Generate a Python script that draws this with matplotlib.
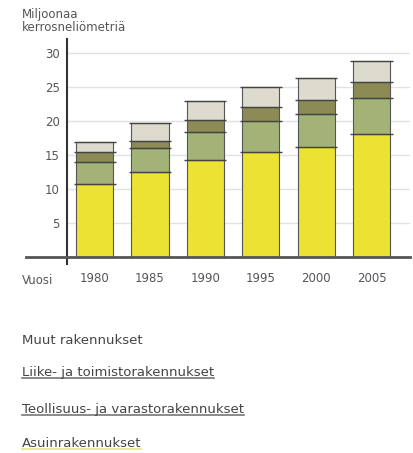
import numpy as np
import matplotlib.pyplot as plt

# data (millions of floor square metres)
years = ['1980', '1985', '1990', '1995', '2000', '2005']
asuin = [10.7, 12.5, 14.3, 15.5, 16.2, 18.1]
teollisuus = [3.3, 3.5, 4.1, 4.5, 4.8, 5.3]
liike = [1.4, 1.0, 1.7, 2.1, 2.1, 2.3]
muut = [1.5, 2.7, 2.8, 2.9, 3.2, 3.1]

series = [asuin, teollisuus, liike, muut]
names = ['Asuinrakennukset', 'Teollisuus- ja varastorakennukset',
         'Liike- ja toimistorakennukset', 'Muut rakennukset']
colors = ['#ebe233', '#a3b277', '#8c8b55', '#dcdbcd']
underline = ['#e6e48a', '#777777', '#777777', None]

fig = plt.figure(figsize=(4.13, 4.53), dpi=100)
ax = fig.add_axes([0.162, 0.433, 0.83, 0.48])

x = np.arange(len(years))
bottom = np.zeros(len(years))
for vals, c in zip(series, colors):
    vals = np.array(vals)
    ax.bar(x, vals, bottom=bottom, width=0.67, color=c,
           edgecolor='#555555', linewidth=0.8, zorder=3)
    # dark line at top of each segment, sticking out a little
    for xi, top in zip(x, bottom + vals):
        ax.hlines(top, xi - 0.38, xi + 0.38, color='#444444', lw=1.0, zorder=4)
    bottom = bottom + vals

ax.set_ylim(0, 32)
ax.set_xlim(-0.5, 5.69)
ax.set_yticks([5, 10, 15, 20, 25, 30])
ax.set_xticks(x)
ax.set_xticklabels(years)
ax.tick_params(axis='both', length=0, labelsize=8.5, colors='#555555')
ax.tick_params(axis='x', pad=11)
ax.tick_params(axis='y', pad=5)
ax.grid(axis='y', color='#e2e2e2', lw=1.0, zorder=0)

for s in ['top', 'right', 'bottom']:
    ax.spines[s].set_visible(False)
ax.spines['left'].set_color('#333333')
ax.spines['left'].set_linewidth(1.5)
ax.spines['left'].set_bounds(-1.0, 32)
ax.axhline(0, xmin=-0.12, xmax=1.0, color='#555555', lw=2.0, clip_on=False, zorder=5)

fig.text(0.053, 0.380, 'Vuosi', fontsize=8.5, color='#555555', va='center')
fig.text(0.053, 0.982, 'Miljoonaa\nkerrosneliömetriä', fontsize=8.5,
         color='#555555', va='top', linespacing=0.95)

# legend as underlined texts
ys = [0.249, 0.177, 0.097, 0.022]
fig.canvas.draw()
for yy, name, uc in zip(ys, names[::-1], underline[::-1]):
    t = fig.text(0.053, yy, name, fontsize=9.5, color='#444444', va='center')
    bb = t.get_window_extent(renderer=fig.canvas.get_renderer())
    bb = bb.transformed(fig.transFigure.inverted())
    if uc is not None:
        fig.add_artist(plt.Line2D([bb.x0, bb.x1], [bb.y0 + 0.002, bb.y0 + 0.002],
                                  color=uc, lw=1.2))

fig.savefig('out.png', dpi=100)
